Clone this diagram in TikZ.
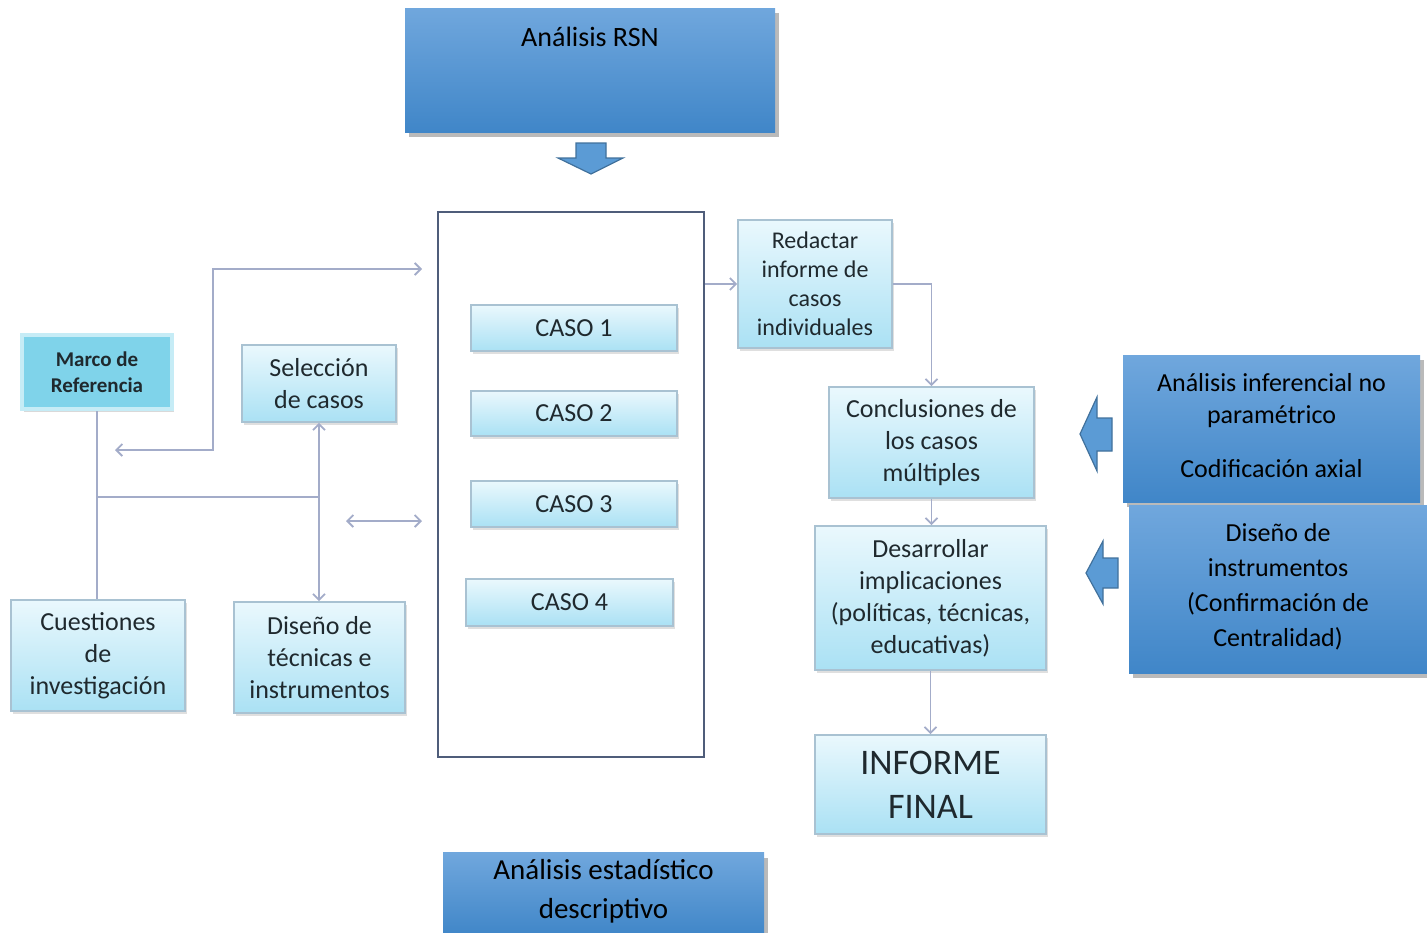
\documentclass[tikz,border=0pt]{standalone}
\usepackage{fontspec}
\setmainfont{Carlito}
\usetikzlibrary{arrows.meta,shadows}
\definecolor{lbTop}{HTML}{EAF8FD}
\definecolor{lbBot}{HTML}{AAE1F4}
\definecolor{lbBorder}{HTML}{A9C2D2}
\definecolor{blueTop}{HTML}{70A7DD}
\definecolor{blueBot}{HTML}{4086C8}
\definecolor{arrFill}{HTML}{5B9BD5}
\definecolor{arrDraw}{HTML}{41719C}
\definecolor{connC}{HTML}{A3ACC9}
\definecolor{frameC}{HTML}{4F5D7A}
\definecolor{txtC}{HTML}{1F292E}
\definecolor{marcoFill}{HTML}{7FD3EA}
\definecolor{marcoEdge}{HTML}{C6ECF6}
\tikzset{
  lbox/.style={draw=lbBorder, line width=0.8pt, top color=lbTop, bottom color=lbBot,
    text=txtC, align=center, inner sep=2pt,
    font=\fontsize{13}{16}\selectfont,
    drop shadow={shadow xshift=1pt,shadow yshift=-1.3pt,fill=black!50,opacity=0.25}},
  bboxbase/.style={top color=blueTop, bottom color=blueBot, draw=none, text=black,
    drop shadow={shadow xshift=2pt,shadow yshift=-2.5pt,fill=black!60,opacity=0.45}},
  bbox/.style={bboxbase, align=center},
  conn/.style={draw=connC, line width=0.9pt},
  tip/.style={-{Straight Barb[length=3pt,width=6pt]}},
  btip/.style={{Straight Barb[length=3pt,width=6pt]}-{Straight Barb[length=3pt,width=6pt]}},
  barrow/.style={fill=arrFill, draw=arrDraw, line width=0.6pt, line join=miter}
}
\begin{document}
\begin{tikzpicture}[x=0.5pt,y=-0.5pt]
\useasboundingbox (0,0) rectangle (1427,932);

% top box
\node[bboxbase, minimum width=185pt, minimum height=62pt, inner sep=4pt,
      text height=15pt, text depth=39pt, font=\fontsize{14}{17}\selectfont]
  (rsn) at (590,70) {Análisis RSN};
\filldraw[barrow] (576,143) -- (606,143) -- (606,158) -- (623,158) -- (591,174)
  -- (558,158) -- (576,158) -- cycle;

% frame with cases
\node[draw=frameC, line width=1.4pt, fill=white, minimum width=133pt, minimum height=272.5pt,
      inner sep=0pt] (frame) at (571,484.5) {};
\node[lbox, minimum width=103pt, minimum height=23pt] (c1) at (574,328) {CASO 1};
\node[lbox, minimum width=103pt, minimum height=22.5pt] (c2) at (574,413.5) {CASO 2};
\node[lbox, minimum width=103pt, minimum height=23pt] (c3) at (574,504) {CASO 3};
\node[lbox, minimum width=103.5pt, minimum height=23.5pt] (c4) at (569.5,602.5) {CASO 4};

% left side
\node[draw=marcoEdge, line width=2pt, fill=marcoFill, text=txtC, align=center,
      font=\bfseries\fontsize{10.5}{13}\selectfont, minimum width=75pt, minimum height=37pt,
      drop shadow={shadow xshift=1pt,shadow yshift=-1.3pt,fill=black!50,opacity=0.3}]
  (marco) at (97,372) {Marco de\\Referencia};
\node[lbox, minimum width=77pt, minimum height=38.5pt] (selec) at (319,383.5) {Selección\\de casos};
\node[lbox, minimum width=87pt, minimum height=55.5pt] (cuest) at (98,655.5)
  {Cuestiones\\de\\investigación};
\node[lbox, minimum width=85.5pt, minimum height=55.5pt] (disen) at (319.5,657.5)
  {Diseño de\\técnicas e\\instrumentos};

% right side
\node[lbox, minimum width=77pt, minimum height=64pt, font=\fontsize{12}{14.5}\selectfont]
  (redac) at (815,284) {Redactar\\informe de\\casos\\individuales};
\node[lbox, minimum width=102.5pt, minimum height=55.5pt] (concl) at (931.5,442.5)
  {Conclusiones de\\los casos\\múltiples};
\node[lbox, minimum width=115.5pt, minimum height=72pt] (desar) at (930.5,598)
  {Desarrollar\\implicaciones\\(políticas, técnicas,\\educativas)};
\node[lbox, minimum width=115.5pt, minimum height=49.5pt, font=\fontsize{18}{22}\selectfont]
  (infor) at (930.5,784.5) {INFORME\\FINAL};

% blue boxes right
\node[bbox, minimum width=148.5pt, minimum height=73.5pt, font=\fontsize{13}{16}\selectfont]
  (infer) at (1271.5,428.5) {Análisis inferencial no\\paramétrico\\[11pt]Codificación axial\\[-13pt]};
\node[bbox, minimum width=149pt, minimum height=84pt, font=\fontsize{13}{17.5}\selectfont]
  (disinst) at (1278,589) {Diseño de\\instrumentos\\(Confirmación de\\Centralidad)\\[-13.5pt]};
\filldraw[barrow] (1112,418) -- (1097,418) -- (1097,397) -- (1080,434) -- (1097,471)
  -- (1097,451) -- (1112,451) -- cycle;
\filldraw[barrow] (1118,558) -- (1103,558) -- (1103,541) -- (1086,573) -- (1103,604)
  -- (1103,588) -- (1118,588) -- cycle;

% bottom box
\node[bbox, minimum width=160.5pt, minimum height=40pt, font=\fontsize{14.5}{19.5}\selectfont]
  (estad) at (603.5,894) {Análisis estadístico\\descriptivo\\[-14.5pt]};

% connectors
\coordinate (j1) at (97,497);
\coordinate (j2) at (318,497);
\coordinate (a1) at (115,450);
\coordinate (bend) at (213,450);
\coordinate (a2) at (422,269);
\coordinate (b1) at (346,521);
\coordinate (b2) at (422,521);
\draw[conn] (marco.south) -- (marco.south |- cuest.north);
\draw[conn] (j1) -- (j2);
\draw[conn,btip] (selec.south) -- (selec.south |- disen.north);
\draw[conn,btip] (a1) -- (bend) |- (a2);
\draw[conn,btip] (b1) -- (b2);
\draw[conn,tip] (frame.east |- redac.west) -- (redac.west);
\draw[conn,tip] (redac.east) -| (concl.north);
\draw[conn,tip] (concl.south) -- (concl.south |- desar.north);
\draw[conn,tip] (desar.south) -- (desar.south |- infor.north);
\end{tikzpicture}
\end{document}
